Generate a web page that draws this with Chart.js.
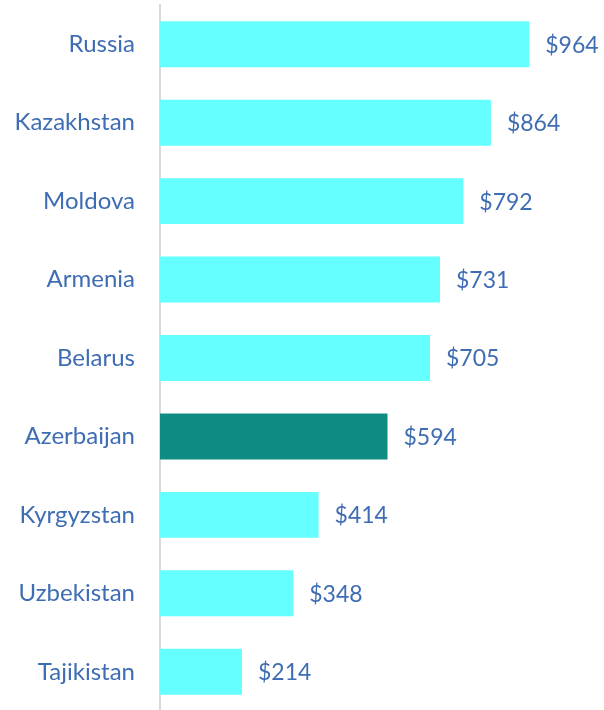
<!DOCTYPE html>
<html>
<head>
<meta charset="utf-8">
<script src="https://cdn.jsdelivr.net/npm/chart.js@4"></script>
<style>
  html, body { margin: 0; padding: 0; background: #fff; overflow: hidden; }
  #wrap { width: 604px; height: 716px; }
</style>
</head>
<body>
<div id="wrap"><canvas id="grafico"></canvas></div>
<script>
// Datos del gráfico
const paises = ['Russia', 'Kazakhstan', 'Moldova', 'Armenia', 'Belarus', 'Azerbaijan', 'Kyrgyzstan', 'Uzbekistan', 'Tajikistan'];
const valores = [964, 864, 792, 731, 705, 594, 414, 348, 214];
const destacado = 'Azerbaijan';

const colorTexto = '#3F6DB3';
const fuente = 'Lato, "Open Sans", sans-serif';

// Etiquetas de valor a la derecha de cada barra
const etiquetasValor = {
  id: 'etiquetasValor',
  afterDatasetsDraw(chart) {
    const ctx = chart.ctx;
    const meta = chart.getDatasetMeta(0);
    ctx.save();
    ctx.font = '23px ' + fuente;
    ctx.fillStyle = colorTexto;
    ctx.textAlign = 'left';
    ctx.textBaseline = 'middle';
    meta.data.forEach((bar, i) => {
      ctx.fillText('$' + valores[i], bar.x + 16, bar.y + 1);
    });
    ctx.restore();
  }
};

new Chart(document.getElementById('grafico'), {
  type: 'bar',
  data: {
    labels: paises,
    datasets: [{
      data: valores,
      backgroundColor: paises.map(p => p === destacado ? '#0E8C82' : '#66FFFF'),
      borderWidth: 0,
      categoryPercentage: 1,
      barPercentage: 0.586
    }]
  },
  options: {
    indexAxis: 'y',
    responsive: true,
    maintainAspectRatio: false,
    animation: false,
    layout: { padding: { top: 5, right: 61, bottom: 5, left: 0 } },
    plugins: {
      legend: { display: false },
      tooltip: { enabled: false }
    },
    scales: {
      x: {
        display: false,
        min: 0,
        max: 1000
      },
      y: {
        // ancho fijo del eje y sin margen extra arriba/abajo
        afterFit(scale) {
          scale.width = 160;
          scale.paddingTop = 0;
          scale.paddingBottom = 0;
        },
        grid: { display: false, drawTicks: false },
        border: { display: true, color: '#D9D9D9', width: 2 },
        ticks: {
          color: colorTexto,
          padding: 25,
          font: { family: fuente, size: 24 }
        }
      }
    }
  },
  plugins: [etiquetasValor]
});
</script>
</body>
</html>
